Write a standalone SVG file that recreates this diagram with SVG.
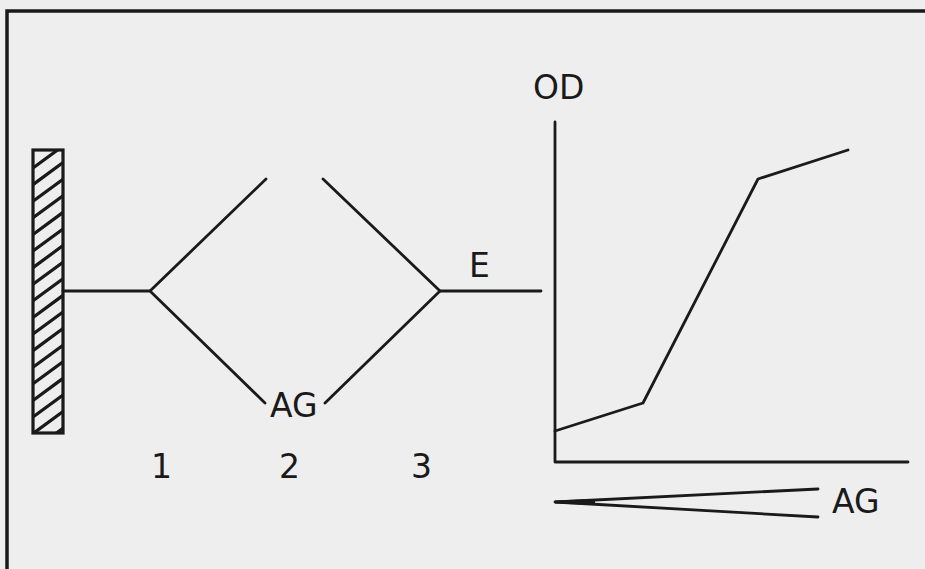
<svg xmlns="http://www.w3.org/2000/svg" width="925" height="569" viewBox="0 0 925 569">
<style>
.ln{fill:none;stroke:#1a1a1a;stroke-width:2.8;stroke-linecap:round;stroke-linejoin:round}
.bd{fill:none;stroke:#1a1a1a;stroke-width:3.5}
.tx{font-family:"DejaVu Sans","Liberation Sans",sans-serif;font-size:33px;fill:#1a1a1a}
</style>
<defs>
<clipPath id="rc"><rect x="33" y="150" width="30" height="283"/></clipPath>
</defs>
<rect width="925" height="569" fill="#eeeeee"/>
<g id="frame">
<path class="bd" d="M7 569 V11 H925"/>
</g>
<g id="wall">
<g clip-path="url(#rc)" class="ln" style="stroke-width:3.2">
<path d="M33 168 l30 -22 M33 184.6 l30 -22 M33 201.2 l30 -22 M33 217.8 l30 -22 M33 234.4 l30 -22 M33 251 l30 -22 M33 267.6 l30 -22 M33 284.2 l30 -22 M33 300.8 l30 -22 M33 317.4 l30 -22 M33 334 l30 -22 M33 350.6 l30 -22 M33 367.2 l30 -22 M33 383.8 l30 -22 M33 400.4 l30 -22 M33 417 l30 -22 M33 433.6 l30 -22 M33 450.2 l30 -22"/>
</g>
<rect x="33" y="150" width="30" height="283" fill="none" stroke="#1a1a1a" stroke-width="3.2"/>
</g>
<g id="connectors">
<path class="ln" d="M63 291 H150"/>
<path class="ln" d="M266 179 L150 291 L265 403"/>
<path class="ln" d="M323 179 L440 291 L325 403"/>
<path class="ln" d="M440 291 H541"/>
</g>
<g id="labels">
<text class="tx" x="469" y="277">E</text>
<text class="tx" x="270" y="417">AG</text>
<text class="tx" x="151" y="478">1</text>
<text class="tx" x="279" y="478">2</text>
<text class="tx" x="411" y="478">3</text>
</g>
<g id="graph">
<path class="ln" d="M555 122 V462 H908"/>
<path class="ln" d="M555 431 L643 403 L758 179 L848 150"/>
<text class="tx" x="533" y="99">OD</text>
</g>
<g id="wedge">
<path class="ln" d="M555 502 L818 489 M555 502 L818 517"/>
<path d="M555 500.5 L595 499 L595 505 L555 503.5 Z" fill="#1a1a1a"/>
<text class="tx" x="832" y="513">AG</text>
</g>
</svg>
